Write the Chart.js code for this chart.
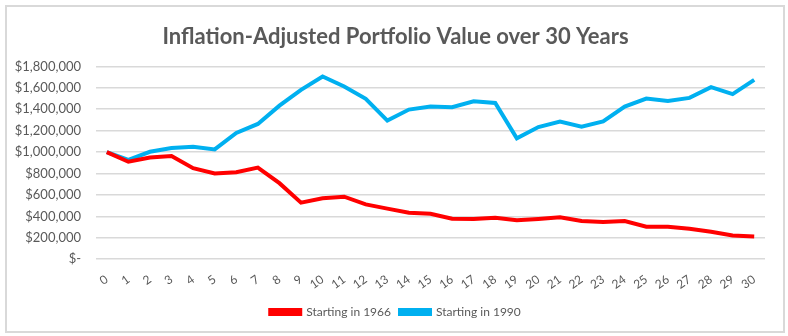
<!DOCTYPE html>
<html>
<head>
<meta charset="utf-8">
<script src="https://cdn.jsdelivr.net/npm/chart.js@4"></script>
<style>
  html, body { margin: 0; padding: 0; background: #fff; }
  #wrap { position: relative; width: 788px; height: 336px; }
  #frame { position: absolute; left: 5px; top: 5px; width: 776px; height: 324px;
           border: 2px solid #d9d9d9; pointer-events: none; }
</style>
</head>
<body>
<div id="wrap">
  <canvas id="chartPortfolio" width="788" height="336"></canvas>
  <div id="frame"></div>
</div>
<script>
const years = ['0','1','2','3','4','5','6','7','8','9','10','11','12','13','14','15',
               '16','17','18','19','20','21','22','23','24','25','26','27','28','29','30'];

const start1966 = [1000000, 910000, 950000, 963000, 850000, 800000, 812000, 856000, 710000, 528000,
                   569000, 584000, 512000, 472000, 434000, 425000, 378000, 375000, 388000, 363000,
                   375000, 391000, 356000, 347000, 356000, 303000, 303000, 284000, 256000, 222000, 213000];

const start1990 = [1000000, 928000, 1003000, 1038000, 1050000, 1025000, 1178000, 1263000, 1434000, 1581000,
                   1706000, 1612000, 1497000, 1294000, 1397000, 1425000, 1419000, 1475000, 1459000, 1128000,
                   1234000, 1284000, 1238000, 1287000, 1425000, 1500000, 1478000, 1506000, 1606000, 1541000, 1675000];

const textGrey = '#595959';
const font = 'Lato, "Open Sans", sans-serif';

function money(v) {
    if (v === 0) return '$-';
    return '$' + v.toLocaleString('en-US');
}

// nudge title and legend to the right so they sit over the middle of the frame
const centreBlocks = {
    id: 'centreBlocks',
    afterLayout(chart) {
        const dx = 10;
        [chart.titleBlock, chart.legend].forEach((b) => {
            if (b) { b.left += dx; b.right += dx; }
        });
    }
};

new Chart(document.getElementById('chartPortfolio'), {
    type: 'line',
    data: {
        labels: years,
        datasets: [{
            label: 'Starting in 1966',
            data: start1966,
            borderColor: '#ff0000',
            backgroundColor: '#ff0000',
            borderWidth: 4,
            pointRadius: 0,
            tension: 0
        }, {
            label: 'Starting in 1990',
            data: start1990,
            borderColor: '#00b0f0',
            backgroundColor: '#00b0f0',
            borderWidth: 4,
            pointRadius: 0,
            tension: 0
        }]
    },
    options: {
        responsive: false,
        animation: false,
        layout: { padding: { left: 6, right: 23, top: 0, bottom: 8 } },
        plugins: {
            title: {
                display: true,
                text: 'Inflation-Adjusted Portfolio Value over 30 Years',
                color: textGrey,
                font: { family: font, size: 22, weight: 'bold' },
                padding: { top: 24, bottom: 16 }
            },
            legend: {
                position: 'bottom',
                labels: {
                    color: textGrey,
                    font: { family: font, size: 12 },
                    boxWidth: 30,
                    boxHeight: 4,
                    padding: 9
                }
            },
            tooltip: { enabled: false }
        },
        scales: {
            x: {
                offset: true,
                grid: { display: false },
                border: { display: false },
                ticks: {
                    color: textGrey,
                    font: { family: font, size: 12 },
                    minRotation: 35,
                    maxRotation: 35,
                    autoSkip: false,
                    padding: 5
                }
            },
            y: {
                min: 0,
                max: 1800000,
                afterFit: (scale) => { scale.width = 90; },
                grid: { color: '#d9d9d9', lineWidth: 1.5, drawTicks: false },
                border: { display: false },
                ticks: {
                    stepSize: 200000,
                    color: textGrey,
                    font: { family: font, size: 13 },
                    padding: 15,
                    callback: (v) => money(v)
                }
            }
        }
    },
    plugins: [centreBlocks]
});
</script>
</body>
</html>
